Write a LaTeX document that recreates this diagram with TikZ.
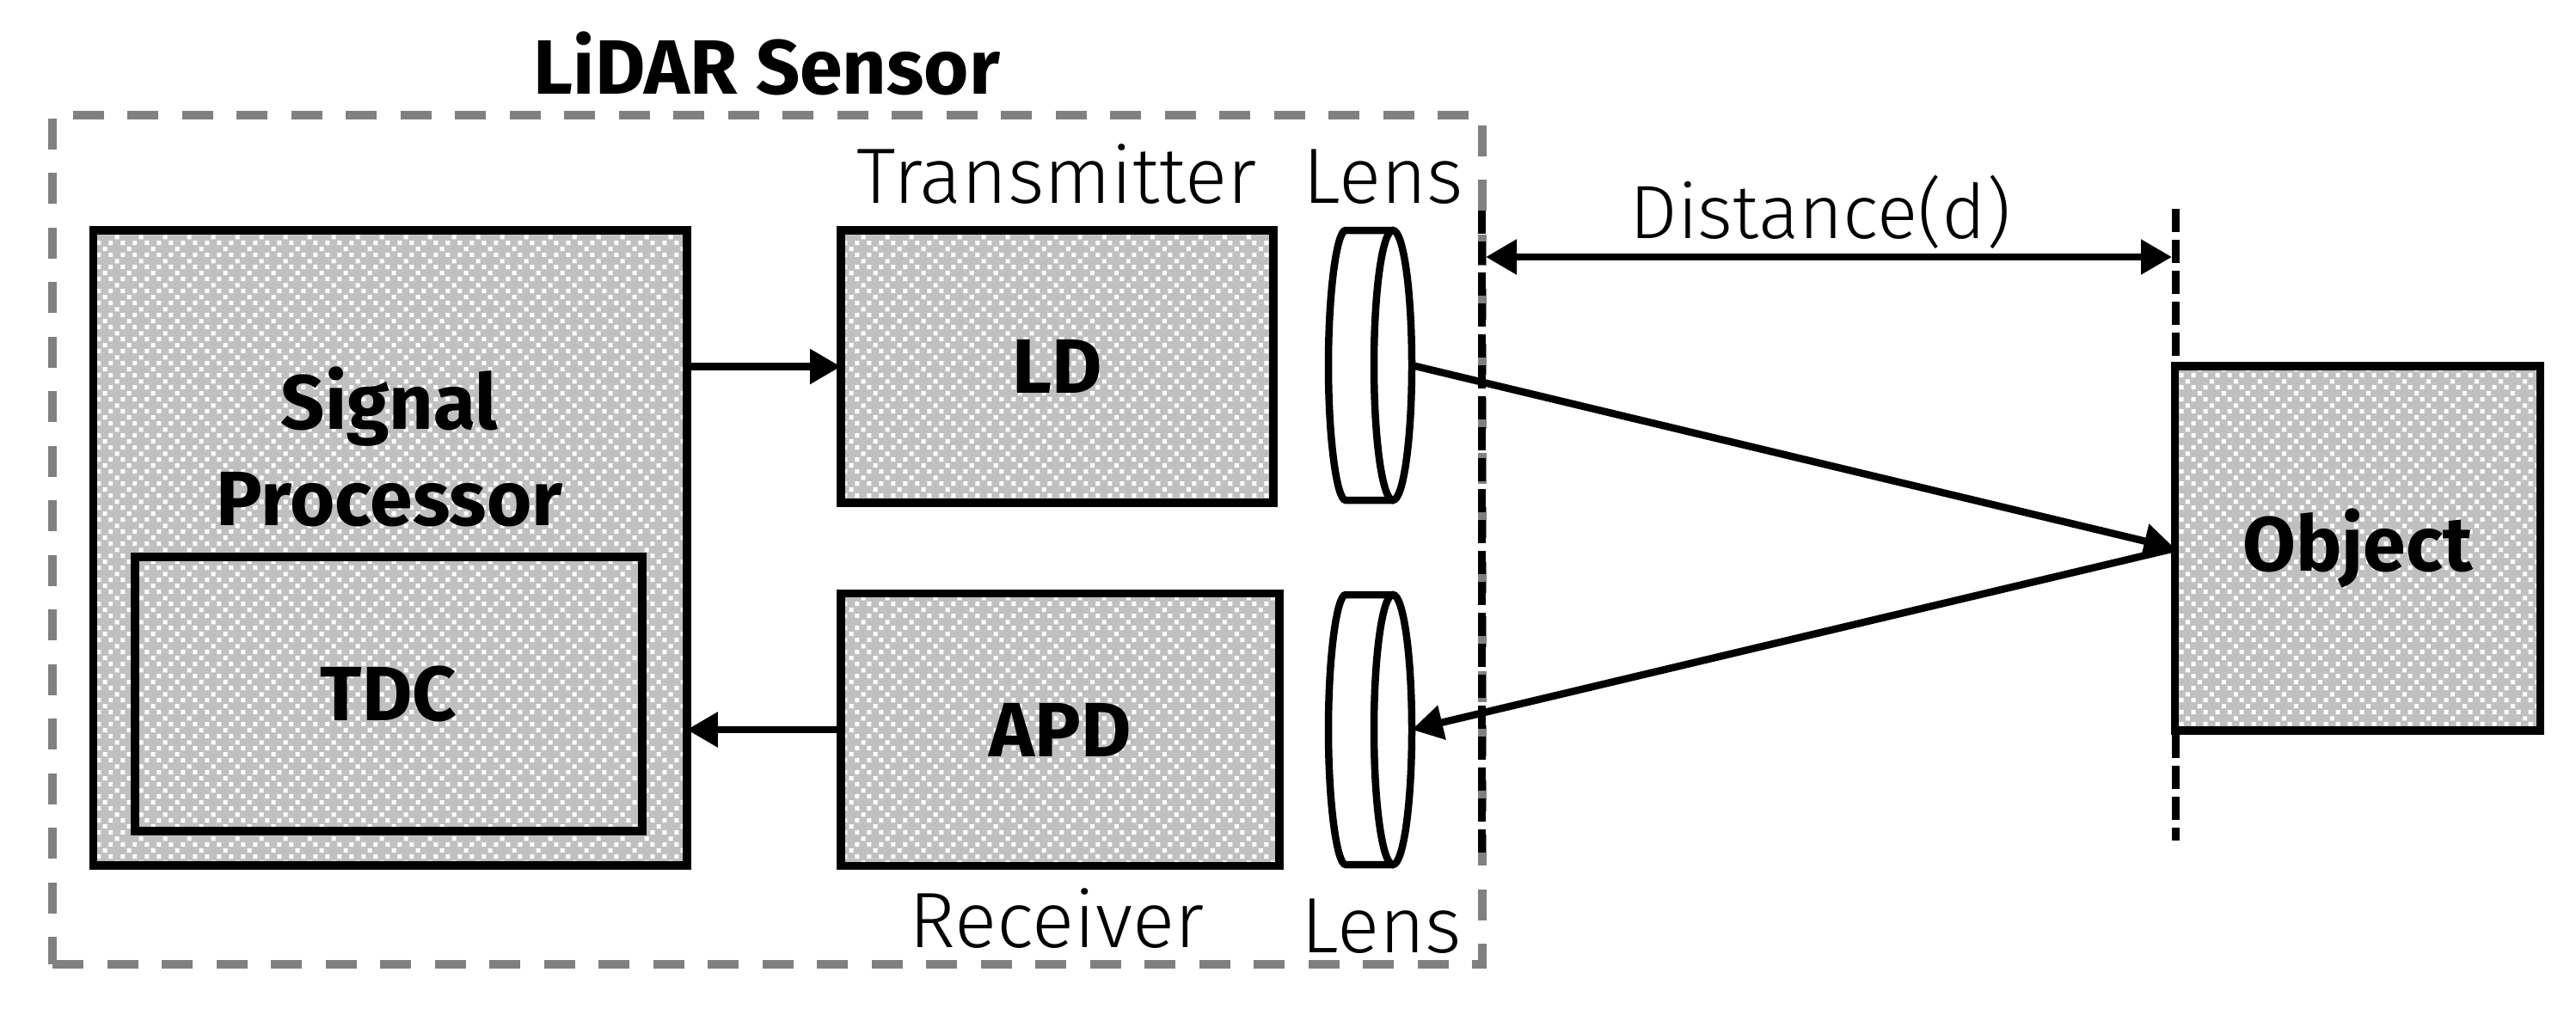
\documentclass[tikz,border=0pt]{standalone}
\usepackage{fontspec}
\setmainfont{Fira Sans}[UprightFont=* Light, BoldFont=* Bold]
\usepackage{tikz}
\usetikzlibrary{patterns, arrows.meta, shapes.geometric}
\definecolor{checkgray}{RGB}{192, 192, 192}
\definecolor{sensorgray}{RGB}{128, 128, 128}
\newcommand{\checkdot}[2]{\pgfpathrectangle{\pgfpoint{#1pt}{#2pt}}{\pgfqpoint{1.42pt}{1.42pt}}}
\pgfdeclarepatternformonly{lidarcheck}{\pgfqpoint{-1pt}{-1pt}}{\pgfqpoint{9pt}{9pt}}{\pgfqpoint{7.968pt}{7.968pt}}{
  \checkdot{2.15}{5.65}
  \checkdot{0.07}{3.66}
  \checkdot{4.05}{3.66}
  \checkdot{6.13}{1.58}
  \checkdot{0.07}{-0.33}
  \checkdot{4.05}{-0.33}
  \pgfusepath{fill}
}
\tikzset{
  blockbox/.style={draw, line width=0.095cm, preaction={fill=checkgray}, pattern=lidarcheck,
    pattern color=white, inner sep=0pt, outer sep=0pt, font=\fontsize{25.5}{32}\selectfont\bfseries},
  lensfront/.style={draw, ellipse, line width=0.085cm, inner sep=0pt, outer sep=0pt,
    minimum width=0.44cm, minimum height=3.14cm},
  lensback/.style={line width=0.085cm},
  plainlabel/.style={anchor=base, font=\fontsize{26}{32}\selectfont},
  wire/.style={line width=0.085cm, -{Triangle[length=0.36cm, width=0.39cm]}},
  ruleline/.style={line width=0.09cm, dash pattern=on 0.27cm off 0.09cm}
}

\begin{document}
\begin{tikzpicture}

  \useasboundingbox (0, 0) rectangle (29.96, -11.8);

  \node[draw=sensorgray, line width=0.1cm, dash pattern=on 0.36cm off 0.275cm,
    minimum width=16.63cm, minimum height=9.88cm] (sensor) at (8.925, -6.28) {};
  \node[plainlabel, font=\fontsize{25.5}{32}\selectfont\bfseries] (sensorlabel) at (8.92, -1.09) {LiDAR Sensor};

  \coordinate (leftrule) at (17.235, -2.45);
  \coordinate (leftend) at (17.235, -9.94);
  \coordinate (rightrule) at (25.30, -2.43);
  \coordinate (rightend) at (25.30, -9.78);
  \draw[ruleline] (leftrule) -- (leftend);
  \draw[ruleline] (rightrule) -- (rightend);

  \node[blockbox, minimum width=6.905cm, minimum height=7.39cm] (signal) at (4.535, -6.375) {};
  \node[font=\fontsize{25.5}{32}\selectfont\bfseries, align=center] (signaltext) at (4.53, -5.2) {Signal\\Processor};
  \node[blockbox, minimum width=5.9cm, minimum height=3.19cm] (tdc) at (4.52, -8.075) {TDC};

  \node[blockbox, minimum width=5.03cm, minimum height=3.17cm] (ld) at (12.295, -4.265) {LD};
  \node[blockbox, minimum width=5.1cm, minimum height=3.17cm] (apd) at (12.33, -8.49) {APD};
  \node[blockbox, minimum width=4.25cm, minimum height=4.24cm] (object) at (27.42, -6.38) {Object};

  \node[lensfront] (lenstx) at (16.2, -4.25) {};
  \node[lensfront] (lensrx) at (16.2, -8.49) {};
  \draw[lensback, rounded corners=0.02cm] (lenstx.north) -- ++(-0.53, 0) arc[start angle=90, end angle=270, x radius=0.22, y radius=1.57] -- (lenstx.south);
  \draw[lensback, rounded corners=0.02cm] (lensrx.north) -- ++(-0.53, 0) arc[start angle=90, end angle=270, x radius=0.22, y radius=1.57] -- (lensrx.south);

  \node[plainlabel] (txlabel) at (12.29, -2.36) {Transmitter};
  \node[plainlabel] (lenstxlabel) at (16.09, -2.36) {Lens};
  \node[plainlabel, font=\fontsize{25}{32}\selectfont] (distlabel) at (21.17, -2.77) {Distance(d)};
  \node[plainlabel] (rxlabel) at (12.29, -11.02) {Receiver};
  \node[plainlabel] (lensrxlabel) at (16.07, -11.08) {Lens};

  \coordinate (distleft) at (17.28, -2.99);
  \coordinate (distright) at (25.26, -2.99);
  \draw[wire, {Triangle[length=0.36cm, width=0.39cm]}-{Triangle[length=0.36cm, width=0.39cm]}] (distleft) -- (distright);

  \draw[wire] (signal.east |- ld.west) -- (ld.west);
  \draw[wire] (apd.west) -- (signal.east |- apd.west);
  \draw[wire] (lenstx.east) -- (object.west);
  \draw[wire] (object.west) -- (lensrx.east);

\end{tikzpicture}
\end{document}
